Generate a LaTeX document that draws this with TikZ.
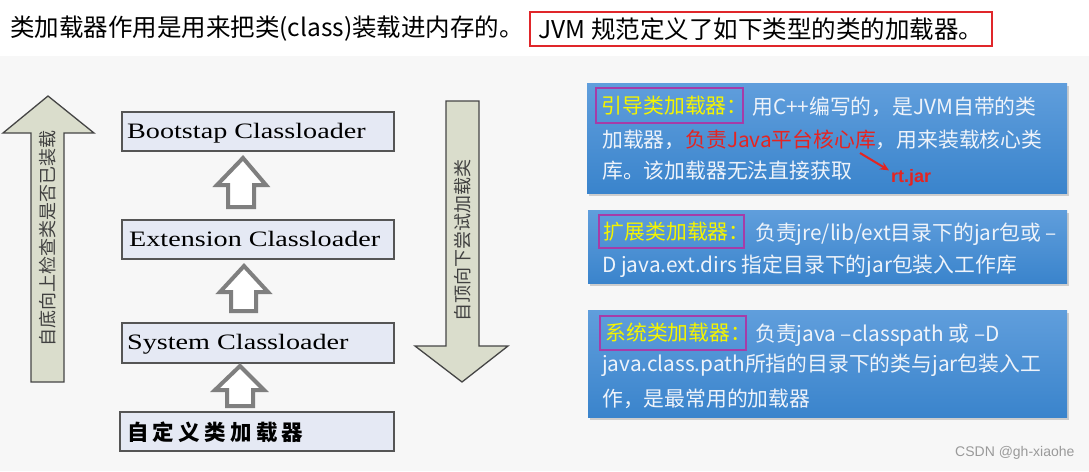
\documentclass[tikz,border=0pt]{standalone}
\usepackage{fontspec}
\usepackage{graphicx}
\usetikzlibrary{shadows,calc,arrows.meta}
\newfontfamily\cjk{Noto Sans CJK SC}
\newfontfamily\serifbox{Liberation Serif}
\newfontfamily\arialf{Liberation Sans}
\definecolor{bg}{HTML}{F7F7F7}
\definecolor{redbox}{HTML}{E0262A}
\definecolor{arrowfill}{HTML}{DADDCC}
\definecolor{arrowline}{HTML}{454545}
\definecolor{hollow}{HTML}{7F7F7F}
\definecolor{lav}{HTML}{E5E9F4}
\definecolor{lavline}{HTML}{555555}
\definecolor{bluetop}{HTML}{609EDC}
\definecolor{bluebot}{HTML}{3A84CC}
\definecolor{purp}{HTML}{A63CA8}
\definecolor{ytext}{HTML}{F4F400}
\definecolor{wtext}{HTML}{EEF3FA}
\definecolor{rtext}{HTML}{E52421}
\definecolor{mark}{HTML}{9A9A9A}
\newcommand{\wide}[1]{\scalebox{1.28}[1]{#1}}
\newcommand{\halfcolon}{\makebox[0.5em][l]{：}}
\begin{document}
\begin{tikzpicture}[x=1pt,y=-1pt,
  bigarrow/.style={fill=arrowfill,draw=arrowline,line width=1.3pt,line join=miter},
  hollowarrow/.style={fill=white,draw=hollow,line width=4pt,line join=miter},
  lavbox/.style={fill=lav,draw=lavline,line width=1.5pt,minimum height=39pt,inner sep=0pt},
  boxlabel/.style={anchor=base west,inner sep=0pt,font=\serifbox\fontsize{22}{24}\selectfont},
  bluebox/.style={top color=bluetop,bottom color=bluebot,draw=none,inner sep=0pt,
    drop shadow={opacity=0.35,shadow xshift=2pt,shadow yshift=-3pt}},
  titlebox/.style={draw=purp,line width=2pt,inner sep=0pt,text=ytext,
    font=\cjk\fontsize{20.8}{24}\selectfont},
  btext/.style={anchor=west,inner sep=0pt,text=wtext,text height=18pt,text depth=2.5pt,
    font=\cjk\fontsize{20.8}{24}\selectfont},
  vtext/.style={rotate=90,inner sep=0pt,text=black!75,font=\cjk\fontsize{18}{20}\selectfont}
]
\useasboundingbox (0,0) rectangle (1089,471);
\fill[white] (0,0) rectangle (1089,56);
\fill[bg] (0,56) rectangle (1089,471);

% title
\node[anchor=west,inner sep=0pt,font=\cjk\fontsize{24.5}{28}\selectfont] (title) at (10,29)
  {类加载器作用是用来把类(class)装载进内存的。};
\node[draw=redbox,line width=2.5pt,minimum width=462pt,minimum height=34pt,inner sep=0pt,
  font=\cjk\fontsize{24.5}{28}\selectfont] (jvm) at (761,29)
  {JVM 规范定义了如下类型的类的加载器。};

% big up arrow
\draw[bigarrow] (48,96) -- (94,133) -- (64,133) -- (64,382) -- (31,382) -- (31,133) -- (3,133) -- cycle;
\node[vtext] (uptext) at (47.5,238.5) {自底向上检查类是否已装载};

% big down arrow
\draw[bigarrow] (446,101) -- (479,101) -- (479,346) -- (508,346) -- (462,382) -- (415,346) -- (446,346) -- cycle;
\node[vtext] (downtext) at (463,240.5) {自顶向下尝试加载类};

% loader boxes
\node[lavbox,minimum width=272pt] (boot) at (258,131.5) {};
\node[boxlabel] (bootl) at (127,138) {\wide{Bootstap Classloader}};
\node[lavbox,minimum width=272pt] (ext) at (258,239.5) {};
\node[boxlabel] (extl) at (129,246) {\wide{Extension Classloader}};
\node[lavbox,minimum width=272pt,minimum height=40pt] (sys) at (258,343) {};
\node[boxlabel] (sysl) at (127,349) {\wide{System Classloader}};
\node[lavbox,minimum width=274pt] (cust) at (257,431.5) {};
\node[anchor=west,inner sep=0pt,font=\cjk\bfseries\fontsize{21.5}{24}\selectfont\addfontfeature{LetterSpace=20}] (custl) at (127,432) {自定义类加载器};

% hollow arrows
\draw[hollowarrow] (243,158) -- (266,185) -- (254,185) -- (254,207) -- (228,207) -- (228,185) -- (217,185) -- cycle;
\draw[hollowarrow] (244,266) -- (268,292) -- (256,292) -- (256,311) -- (231,311) -- (231,292) -- (220,292) -- cycle;
\draw[hollowarrow] (240,366) -- (264,390) -- (253,390) -- (253,406) -- (227,406) -- (227,390) -- (215,390) -- cycle;

% blue boxes
\node[bluebox,minimum width=480pt,minimum height=110pt] (b1) at (827,138) {};
\node[bluebox,minimum width=479pt,minimum height=73pt] (b2) at (827.5,246.5) {};
\node[bluebox,minimum width=479pt,minimum height=107pt] (b3) at (827.5,363.5) {};

\node[titlebox,minimum width=147pt,minimum height=35pt] (t1) at (669.5,105.5) {引导类加载器\halfcolon};
\node[btext] (b1l1) at (752,106.5) {用C++编写的，是JVM自带的类};
\node[btext] (b1l2) at (602,140) {加载器，\textcolor{rtext}{负责Java平台核心库}，用来装载核心类};
\node[btext] (b1l3) at (602,171) {库。该加载器无法直接获取};

\node[titlebox,minimum width=145pt,minimum height=33pt] (t2) at (671.5,231.5) {扩展类加载器\halfcolon};
\node[btext] (b2l1) at (755,233) {负责jre/lib/ext目录下的jar包或 –};
\node[btext] (b2l2) at (602,265) {D java.ext.dirs 指定目录下的jar包装入工作库};

\node[titlebox,minimum width=146pt,minimum height=34pt] (t3) at (673,333) {系统类加载器\halfcolon};
\node[btext] (b3l1) at (755,334) {负责java –classpath 或 –D};
\node[btext] (b3l2) at (602,364) {java.class.path所指的目录下的类与jar包装入工};
\node[btext] (b3l3) at (602,398.5) {作，是最常用的加载器};

% rt.jar
\node[anchor=west,inner sep=0pt,text=rtext,font=\arialf\bfseries\fontsize{18}{20}\selectfont] (rt) at (891,178) {rt.jar};
\coordinate (rtfrom) at (860,153);
\draw[rtext,line width=2pt,-{Stealth[length=9pt,width=8pt]}] (rtfrom) -- ($(rt.north west)+(-2,1)$);

% watermark
\node[anchor=west,inner sep=0pt,text=mark,font=\arialf\fontsize{14}{16}\selectfont] (wm) at (955,453) {CSDN @gh-xiaohe};
\end{tikzpicture}
\end{document}
